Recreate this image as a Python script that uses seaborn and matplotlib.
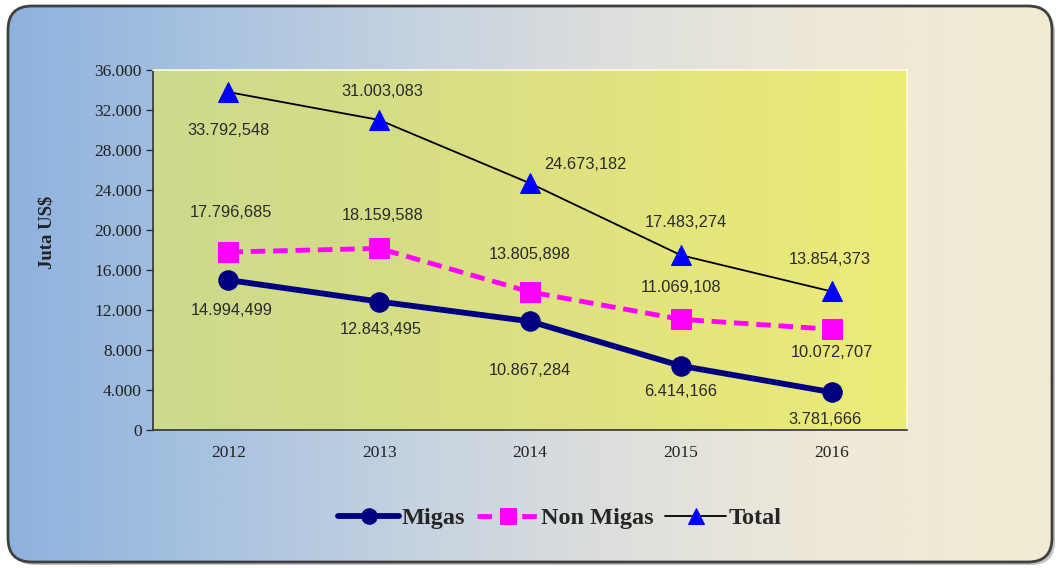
import numpy as np
import pandas as pd
import matplotlib
matplotlib.use("Agg")
import matplotlib.pyplot as plt
import seaborn as sns
from matplotlib.patches import FancyBboxPatch
from matplotlib.colors import LinearSegmentedColormap
from matplotlib.ticker import FuncFormatter, FixedLocator

# ---------------- data ----------------
years = ["2012", "2013", "2014", "2015", "2016"]
migas = [14994.499, 12843.495, 10867.284, 6414.166, 3781.666]
non_migas = [17796.685, 18159.588, 13805.898, 11069.108, 10072.707]
total = [33792.548, 31003.083, 24673.182, 17483.274, 13854.373]
migas_labels = ["14.994,499", "12.843,495", "10.867,284", "6.414,166", "3.781,666"]
non_migas_labels = ["17.796,685", "18.159,588", "13.805,898", "11.069,108", "10.072,707"]
total_labels = ["33.792,548", "31.003,083", "24.673,182", "17.483,274", "13.854,373"]
y_ticks = [0, 4000, 8000, 12000, 16000, 20000, 24000, 28000, 32000, 36000]
y_label = "Juta US\\$"

# label offsets in pixels (style)
migas_off = [(3, -30), (2, -28), (0, -49), (0, -26), (-7, -27)]
non_migas_off = [(3, 40), (3, 33), (0, 37), (0, 32), (0, -23)]
total_off = [(0, -38), (3, 28), (55, 19), (5, 33), (-2, 32)]

sns.set_theme(style="white")
plt.rcParams["font.family"] = ["Liberation Serif", "DejaVu Serif"]

W, H = 1056, 568
fig = plt.figure(figsize=(W / 100, H / 100), dpi=100)

# ---------------- background ----------------
bg = fig.add_axes([0, 0, 1, 1])
bg.set_xlim(0, W)
bg.set_ylim(H, 0)
bg.axis("off")

shadow = FancyBboxPatch((11, 9), 1044, 556, boxstyle="round,pad=0,rounding_size=24",
                        fc="#9a9a9a", ec="none", alpha=0.6, zorder=0)
bg.add_patch(shadow)
frame = FancyBboxPatch((8, 6), 1044, 556, boxstyle="round,pad=0,rounding_size=24",
                       fc="none", ec="#404040", lw=2, zorder=3)
bg.add_patch(frame)
bg_cmap = LinearSegmentedColormap.from_list(
    "bg", ["#8eb2de", "#a9c3e0", "#c7d3e0", "#dfe0dc", "#efe9d8", "#f3ecd3"])
grad = np.linspace(0, 1, 512).reshape(1, -1)
im = bg.imshow(grad, cmap=bg_cmap, extent=[8, 1052, 562, 6], aspect="auto", zorder=1)
clip = FancyBboxPatch((8, 6), 1044, 556, boxstyle="round,pad=0,rounding_size=24",
                      fc="none", ec="none")
bg.add_patch(clip)
im.set_clip_path(clip)

pa_cmap = LinearSegmentedColormap.from_list(
    "pa", ["#cdd98c", "#d6dd86", "#e2e47e", "#edec78"])
bg.imshow(grad, cmap=pa_cmap, extent=[153, 907, 430, 70], aspect="auto", zorder=2)
bg.set_xlim(0, W)
bg.set_ylim(H, 0)

# ---------------- main axes ----------------
ax = fig.add_axes([153 / W, 1 - 430 / H, 754 / W, 360 / H])
ax.patch.set_alpha(0)

sns.lineplot(x=years, y=migas, ax=ax, color="#000080", lw=4.2, marker="o",
             markersize=14, markeredgecolor="#000080", label="Migas", sort=False, zorder=3)
sns.lineplot(x=years, y=non_migas, ax=ax, color="#ff00ff", lw=3.5,
             linestyle=(0, (3, 1.6)), marker="s", markersize=14,
             markeredgecolor="#ff00ff", label="Non Migas", sort=False, zorder=3)
sns.lineplot(x=years, y=total, ax=ax, color="black", lw=1.3, marker="^",
             markersize=15, markerfacecolor="#0000ff", markeredgecolor="#0000ff",
             label="Total", sort=False, zorder=4)

for vals, labs, offs in [(migas, migas_labels, migas_off),
                         (non_migas, non_migas_labels, non_migas_off),
                         (total, total_labels, total_off)]:
    for i, (v, lab, off) in enumerate(zip(vals, labs, offs)):
        ax.annotate(lab, (i, v), xytext=off, textcoords="offset pixels",
                    ha="center", va="center", fontsize=11.8, color="#2a2a2a",
                    family=["Liberation Sans", "DejaVu Sans"])

ax.set_xlim(-0.5, 4.5)
ax.set_ylim(0, 36000)
ax.set_yticks(y_ticks)
ax.yaxis.set_major_formatter(FuncFormatter(lambda v, p: f"{v:,.0f}".replace(",", ".")))
ax.set_xticks(range(len(years)))
ax.set_xticklabels(years)
ax.xaxis.set_minor_locator(FixedLocator([-0.5, 0.5, 1.5, 2.5, 3.5, 4.5]))
ax.tick_params(axis="x", which="major", length=0, pad=11, labelsize=12.5, labelcolor="#222222")
ax.tick_params(axis="x", which="minor", length=5, width=1, direction="inout", color="#333333")
ax.tick_params(axis="y", which="major", length=5, width=1, direction="out", left=True,
               labelsize=12.5, labelcolor="#222222", color="#333333", pad=3)
ax.set_xlabel("")
ax.set_ylabel("")
for s in ["left", "bottom"]:
    ax.spines[s].set_color("#333333")
    ax.spines[s].set_linewidth(1.2)
for s in ["top", "right"]:
    ax.spines[s].set_color("#fffbe0")
    ax.spines[s].set_linewidth(1.2)

fig.text(47 / W, 1 - 232 / H, y_label, rotation=90, ha="center", va="center",
         fontsize=13.5, fontweight="bold", color="#222222")

handles, labels = ax.get_legend_handles_labels()
ax.get_legend().remove()
fig.legend(handles, labels, loc="center", bbox_to_anchor=(560 / W, 1 - 518 / H),
           bbox_transform=fig.transFigure, ncol=3, frameon=False,
           prop={"family": "Liberation Serif", "weight": "bold", "size": 17.5},
           handlelength=2.5, handletextpad=0.1, columnspacing=0.5, markerscale=0.8)

fig.savefig("out.png", dpi=100)
